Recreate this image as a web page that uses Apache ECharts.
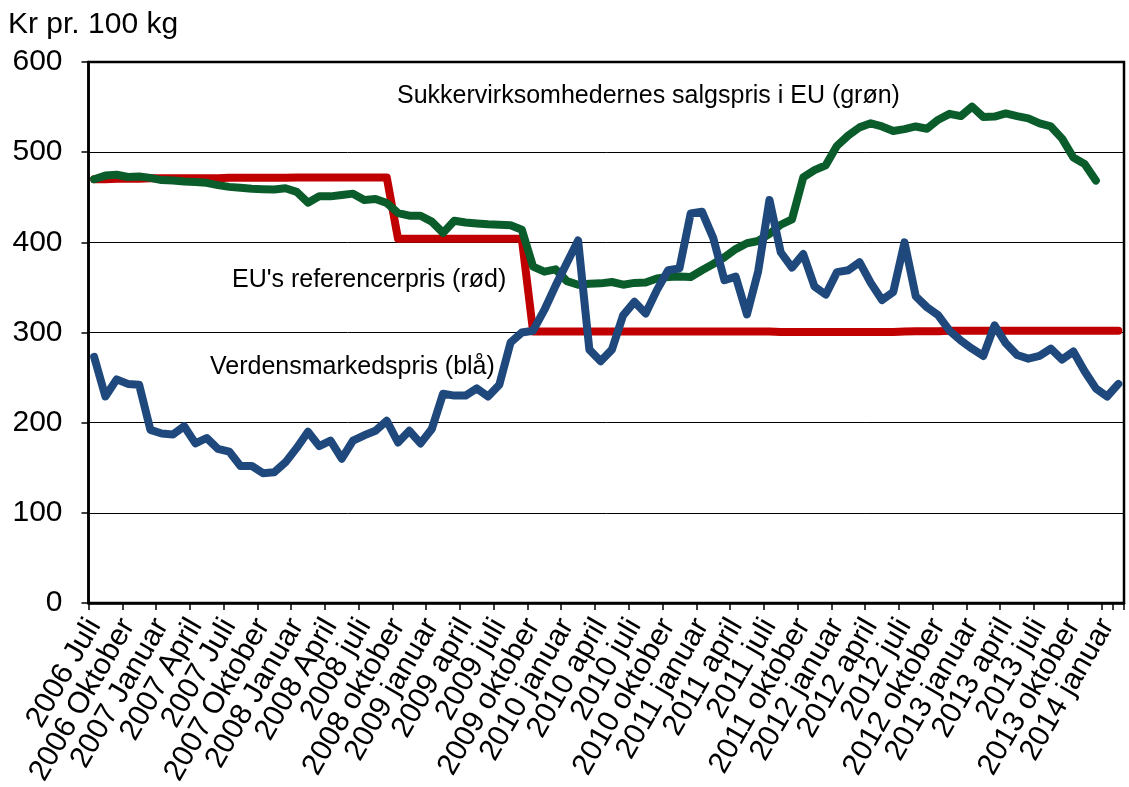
<!DOCTYPE html>
<html>
<head>
<meta charset="utf-8">
<script src="https://cdn.jsdelivr.net/npm/echarts@6/dist/echarts.min.js"></script>
<style>
html,body{margin:0;padding:0;background:#fff;}
#chart{width:1129px;height:787px;}
</style>
</head>
<body>
<div id="chart"></div>
<script>
const categories = [
"2006 Juli","2006 August","2006 September","2006 Oktober","2006 November","2006 December",
"2007 Januar","2007 Februar","2007 Marts","2007 April","2007 Maj","2007 Juni","2007 Juli","2007 August","2007 September","2007 Oktober","2007 November","2007 December",
"2008 Januar","2008 Februar","2008 Marts","2008 April","2008 Maj","2008 Juni","2008 juli","2008 august","2008 september","2008 oktober","2008 november","2008 december",
"2009 januar","2009 februar","2009 marts","2009 april","2009 maj","2009 juni","2009 juli","2009 august","2009 september","2009 oktober","2009 november","2009 december",
"2010 januar","2010 februar","2010 marts","2010 april","2010 maj","2010 juni","2010 juli","2010 august","2010 september","2010 oktober","2010 november","2010 december",
"2011 januar","2011 februar","2011 marts","2011 april","2011 maj","2011 juni","2011 juli","2011 august","2011 september","2011 oktober","2011 november","2011 december",
"2012 januar","2012 februar","2012 marts","2012 april","2012 maj","2012 juni","2012 juli","2012 august","2012 september","2012 oktober","2012 november","2012 december",
"2013 januar","2013 februar","2013 marts","2013 april","2013 maj","2013 juni","2013 juli","2013 august","2013 september","2013 oktober","2013 november","2013 december",
"2014 januar","2014 februar"
];

// Tick labels shown on the x axis (every third month)
const tickLabels = [
"2006 Juli","2006 Oktober","2007 Januar","2007 April","2007 Juli","2007 Oktober",
"2008 Januar","2008 April","2008 juli","2008 oktober","2009 januar","2009 april",
"2009 juli","2009 oktober","2010 januar","2010 april","2010 juli","2010 oktober",
"2011 januar","2011 april","2011 juli","2011 oktober","2012 januar","2012 april",
"2012 juli","2012 oktober","2013 januar","2013 april","2013 juli","2013 oktober","2014 januar"
];

// Verdensmarkedspris (blå)
const worldPrice = [
273,229,248,243,242,192,
188,187,196,177,183,171,168,152,152,144,145,156,
172,190,174,180,160,180,186,191,202,178,191,177,
193,232,230,230,238,229,242,289,300,302,325,352,
377,402,281,268,281,319,334,321,347,369,371,432,
434,405,358,362,320,368,447,389,372,387,351,342,
367,369,378,355,336,345,400,340,328,319,302,291,
282,274,308,288,275,271,274,282,270,279,257,238,
229,243
];

// Sukkervirksomhedernes salgspris i EU (grøn)
const euSalesPrice = [
470,474,475,472.5,473,471.5,
469,468.5,467.5,467,466,463.5,461.5,460.5,459.5,459,458.5,460,
456,444,451,451,452.5,454,447,448,443.5,432.5,429.5,429.5,
423,410.5,424,422,421,420,419.5,419,414,373,367.5,370,
357,353,354,354.5,356,353,355,355.5,360,361.5,362,361.5,
369,376,383.5,392.5,399,401.5,409.5,419.5,425.5,472,480,485.5,
507,518.5,527.5,532,528.5,523.5,525.5,528.5,526,536,542.5,540,
550.5,539,539.5,543,540,537.5,532,528.5,515,494,487,468.5,
null,null
];

// EU's referencepris (rød)
const euReferencePrice = [
470,470,470.5,470.5,470.5,471,
471,471,471,471,471,471,471.5,471.5,471.5,471.5,471.5,471.5,
472,472,472,472,472,472,472,472,472,404,404,404,
404,404,404,404,404,404,404,404,404,301,301,301,
301,301,301,301,301,301,301,301,301,301,301,301,
301,301,301,301,301,301,301,300.5,300.5,300.5,300.5,300.5,
300.5,300.5,300.5,300.5,300.5,300.5,301,301.5,301.5,301.5,302,302,
302,302,302,302,302,302,302,302,302,302,302,302,
302,302
];

const yTicks = {min:0, max:600, interval:100};

const annotations = [
  {text:"Sukkervirksomhedernes salgspris i EU (grøn)", x:397, y:96},
  {text:"EU's referencerpris (rød)", x:232, y:280},
  {text:"Verdensmarkedspris (blå)", x:210, y:367}
];

const chart = echarts.init(document.getElementById('chart'));
const FONT = '"Liberation Sans", Arial, sans-serif';

const option = {
  animation:false,
  backgroundColor:'#fff',
  textStyle:{fontFamily:FONT, color:'#000'},
  grid:{left:88.5, right:5, top:62, bottom:184, show:true, borderColor:'#000', borderWidth:2.5,
        containLabel:false, outerBoundsMode:'none'},
  xAxis:{
    type:'category', data:categories, boundaryGap:true,
    axisLine:{lineStyle:{color:'#000', width:2.5}},
    axisTick:{show:true, interval:2, length:7, lineStyle:{color:'#000', width:1.5}},
    axisLabel:{
      interval:0, rotate:60, fontSize:30, color:'#000', fontFamily:FONT, margin:18,
      showMinLabel:true, hideOverlap:false,
      formatter:function(v){ return tickLabels.indexOf(v) >= 0 ? v : ''; }
    },
    splitLine:{show:false}
  },
  yAxis:{
    type:'value', min:yTicks.min, max:yTicks.max, interval:yTicks.interval,
    axisLine:{show:true, lineStyle:{color:'#000', width:2.5}},
    axisTick:{show:true, length:7, lineStyle:{color:'#000', width:1.5}},
    axisLabel:{fontSize:30, color:'#000', fontFamily:FONT, margin:26},
    splitLine:{show:true, lineStyle:{color:'#000', width:1}}
  },
  series:[
    {name:"EU's referencerpris", type:'line', data:euReferencePrice, symbol:'none', z:2,
     lineStyle:{color:'#C00000', width:8, cap:'round', join:'round'}},
    {name:"Sukkervirksomhedernes salgspris i EU", type:'line', data:euSalesPrice, symbol:'none', z:3,
     lineStyle:{color:'#0B5C2B', width:8, cap:'round', join:'round'}},
    {name:"Verdensmarkedspris", type:'line', data:worldPrice, symbol:'none', z:4,
     lineStyle:{color:'#1F497D', width:8, cap:'round', join:'round'}}
  ],
  graphic:[
    {type:'text', x:8, y:25, style:{text:'Kr pr. 100 kg', font:'30px ' + FONT, fill:'#000', verticalAlign:'middle', textVerticalAlign:'middle'}}
  ].concat(annotations.map(a => ({
    type:'text', x:a.x, y:a.y, z:10,
    style:{text:a.text, font:'25px ' + FONT, fill:'#000', verticalAlign:'middle', textVerticalAlign:'middle'}
  })))
};
chart.setOption(option);
</script>
</body>
</html>
